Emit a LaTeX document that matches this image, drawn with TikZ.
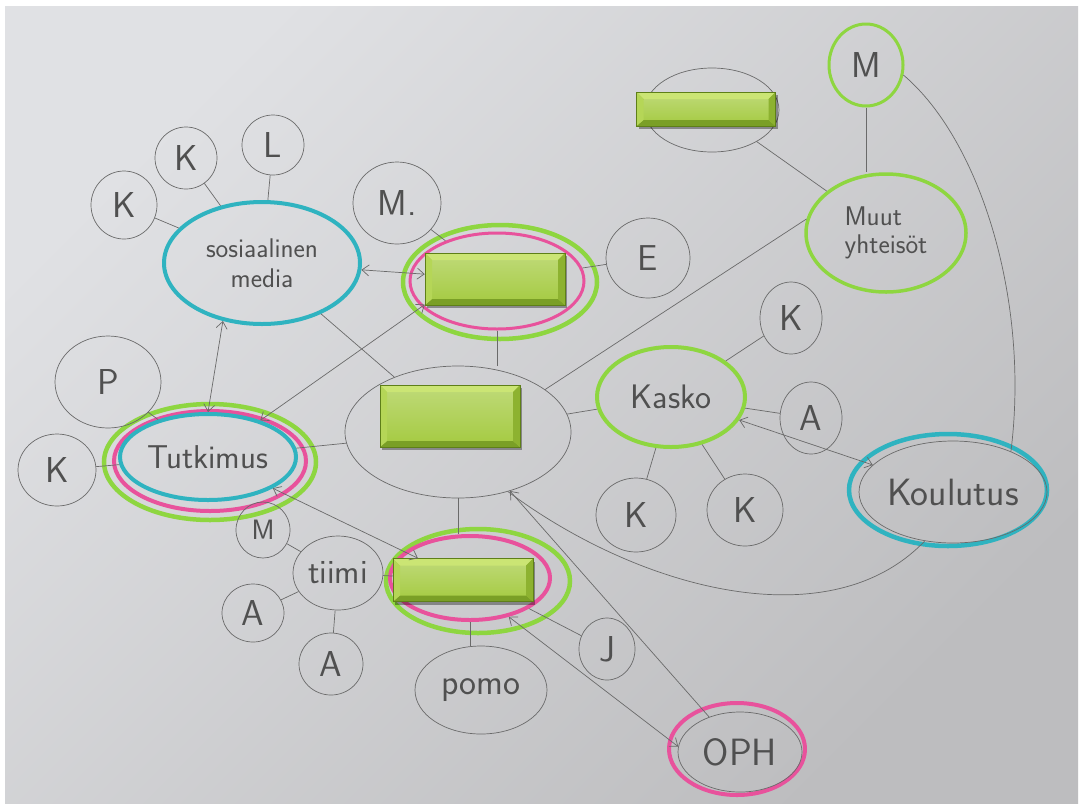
\documentclass[tikz,border=0pt]{standalone}
\usetikzlibrary{arrows,arrows.meta,shapes.geometric,shadows}
\definecolor{pencil}{HTML}{6A6A6A}
\definecolor{writing}{HTML}{505050}
\definecolor{markgreen}{HTML}{8ED640}
\definecolor{markpink}{HTML}{E8529C}
\definecolor{markcyan}{HTML}{2FB3C0}
\definecolor{bgtop}{HTML}{E0E1E4}
\definecolor{bgbot}{HTML}{BDBDBF}
\definecolor{boxface}{HTML}{A4CA40}
\definecolor{boxtop}{HTML}{CBE574}
\definecolor{boxleft}{HTML}{B5D657}
\definecolor{boxright}{HTML}{8DB230}
\definecolor{boxbot}{HTML}{7A9F26}
\definecolor{boxedge}{HTML}{5E7F18}

\begin{document}
\begin{tikzpicture}[x=1pt,y=-1pt]

\tikzset{vertex/.style = {shape=ellipse,draw=pencil,line width=0.7pt,inner sep=0pt,text=writing,align=center,font=\sffamily\fontsize{36}{38}\selectfont}}
\tikzset{edge/.style = {draw=pencil,line width=0.7pt,> = {Straight Barb[length=7pt,width=11pt]}}}
\tikzset{greenring/.style = {draw=markgreen,line width=4.5pt}}
\tikzset{pinkring/.style = {draw=markpink,line width=4pt}}
\tikzset{cyanring/.style = {draw=markcyan,line width=4.5pt}}
\tikzset{greenbox/.style = {shape=rectangle,fill=boxface,draw=boxedge,line width=0.5pt,inner sep=0pt,
  drop shadow={shadow xshift=2pt,shadow yshift=-3pt,opacity=0.35,fill=black},
  path picture={
    \shade[top color=boxface!70!white,bottom color=boxface] ([xshift=7pt,yshift=-7pt]path picture bounding box.north west) rectangle ([xshift=-7pt,yshift=6pt]path picture bounding box.south east);
    \fill[boxtop] (path picture bounding box.north west) -- (path picture bounding box.north east) -- ([xshift=-7pt,yshift=-7pt]path picture bounding box.north east) -- ([xshift=7pt,yshift=-7pt]path picture bounding box.north west) -- cycle;
    \fill[boxbot] (path picture bounding box.south west) -- (path picture bounding box.south east) -- ([xshift=-7pt,yshift=6pt]path picture bounding box.south east) -- ([xshift=7pt,yshift=6pt]path picture bounding box.south west) -- cycle;
    \fill[boxleft] (path picture bounding box.north west) -- (path picture bounding box.south west) -- ([xshift=7pt,yshift=6pt]path picture bounding box.south west) -- ([xshift=7pt,yshift=-7pt]path picture bounding box.north west) -- cycle;
    \fill[boxright] (path picture bounding box.north east) -- (path picture bounding box.south east) -- ([xshift=-7pt,yshift=6pt]path picture bounding box.south east) -- ([xshift=-7pt,yshift=-7pt]path picture bounding box.north east) -- cycle;
  }}}

% paper
\useasboundingbox (0,0) rectangle (1081,807);
\fill[white] (0,0) rectangle (1081,807);
\shade[top color=bgtop,bottom color=bgbot,shading angle=45] (5,6) rectangle (1078,803);

% marker rings
\draw[greenring] (500,282) ellipse [x radius=97, y radius=57];
\draw[greenring] (210,462) ellipse [x radius=106, y radius=58];
\draw[pinkring] (210,461) ellipse [x radius=96, y radius=50];
\draw[greenring] (478,581) ellipse [x radius=92, y radius=52];
\draw[cyanring] (948,490) ellipse [x radius=99, y radius=56];
\draw[pinkring] (737,749) ellipse [x radius=68, y radius=46];

% nodes
\node[vertex,minimum width=134,minimum height=84] (topell) at (712,110) {};
\node[vertex,draw=markgreen,line width=3pt,minimum width=74,minimum height=82] (m) at (866,65) {M};
\node[vertex,draw=markgreen,line width=3.5pt,minimum width=160,minimum height=118,font=\sffamily\fontsize{27}{28}\selectfont,align=left] (muut) at (886,233) {Muut\\yhteisöt};
\node[vertex,draw=markcyan,line width=4pt,minimum width=196,minimum height=122,font=\sffamily\fontsize{27}{30}\selectfont] (somed) at (262,263) {sosiaalinen\\media};
\node[vertex,minimum width=66,minimum height=68] (ksm1) at (124,205) {K};
\node[vertex,minimum width=62,minimum height=62] (ksm2) at (186,158) {K};
\node[vertex,minimum width=62,minimum height=60] (lsm) at (273,145) {L};
\node[vertex,minimum width=88,minimum height=82] (mdot) at (397,203) {M.};
\node[vertex,draw=markpink,line width=3pt,minimum width=174,minimum height=96] (ring1) at (497,281) {};
\node[vertex,minimum width=84,minimum height=80] (e) at (648,258) {E};
\node[vertex,minimum width=226,minimum height=132] (centre) at (458,432) {};
\node[vertex,draw=markcyan,line width=4pt,minimum width=176,minimum height=86,font=\sffamily\fontsize{33}{35}\selectfont] (tutk) at (208,457) {Tutkimus};
\node[vertex,minimum width=106,minimum height=92] (p) at (108,382) {P};
\node[vertex,minimum width=78,minimum height=72] (kl) at (57,470) {K};
\node[vertex,draw=markgreen,line width=4pt,minimum width=148,minimum height=100,font=\sffamily\fontsize{34}{36}\selectfont] (kasko) at (671,397) {Kasko};
\node[vertex,minimum width=62,minimum height=72] (kk1) at (791,318) {K};
\node[vertex,minimum width=62,minimum height=72] (a1) at (811,418) {A};
\node[vertex,minimum width=80,minimum height=74] (kk2) at (636,515) {K};
\node[vertex,minimum width=76,minimum height=72] (kk3) at (745,510) {K};
\node[vertex,minimum width=188,minimum height=102,font=\sffamily\fontsize{38}{40}\selectfont] (koul) at (953,492) {Koulutus};
\node[vertex,minimum width=90,minimum height=74,font=\sffamily\fontsize{34}{36}\selectfont] (tiimi) at (338,573) {tiimi};
\node[vertex,minimum width=54,minimum height=56,font=\sffamily\fontsize{28}{30}\selectfont] (m2) at (263,530) {M};
\node[vertex,minimum width=62,minimum height=58] (a2) at (253,613) {A};
\node[vertex,minimum width=64,minimum height=62] (a3) at (331,664) {A};
\node[vertex,draw=markpink,line width=4pt,minimum width=160,minimum height=84] (ring3) at (470,578) {};
\node[vertex,minimum width=132,minimum height=88,font=\sffamily\fontsize{36}{38}\selectfont] (pomo) at (481,690) {pomo};
\node[vertex,minimum width=56,minimum height=62] (j) at (607,649) {J};
\node[vertex,minimum width=124,minimum height=80,font=\sffamily\fontsize{38}{40}\selectfont] (oph) at (740,752) {OPH};

% green boxes
\node[greenbox,minimum width=139,minimum height=34] (tb) at (706,109) {};
\node[greenbox,minimum width=140,minimum height=52] (box1) at (495,279) {};
\node[greenbox,minimum width=140,minimum height=62] (box2) at (450,416) {};
\node[greenbox,minimum width=140,minimum height=43] (box3) at (463,580) {};

%edges
\draw[edge] (ksm1) to (somed);
\draw[edge] (ksm2) to (somed);
\draw[edge] (lsm) to (somed);
\draw[edge,<->] (somed) to (box1);
\draw[edge,<->] (somed.236) to (tutk.north);
\draw[edge] (somed) to (centre);
\draw[edge] (mdot) to (ring1);
\draw[edge] (e) to (ring1);
\draw[edge] (ring1.south) to (ring1.south |- centre.north);
\draw[edge,<->] (tutk.35) to (box1.200);
\draw[edge] (centre.26) to (muut.170);
\draw[edge] (centre) to (kasko);
\draw[edge] (centre) to (tutk);
\draw[edge] (centre.south) to (centre.south |- ring3.north);
\draw[edge,<-] (centre) to (oph);
\draw[edge] (centre.-50) .. controls (640,590) and (830,640) .. (koul.240);
\draw[edge] (p) to (tutk);
\draw[edge] (kl) to (tutk);
\draw[edge] (kasko) to (kk1);
\draw[edge] (kasko) to (a1);
\draw[edge] (kasko) to (kk2);
\draw[edge] (kasko) to (kk3);
\draw[edge,<->] (kasko) to (koul);
\draw[edge] (m.south) to (m.south |- muut.north);
\draw[edge] (topell) to (muut);
\draw[edge] (m.-15) .. controls (980,140) and (1030,300) .. (koul.35);
\draw[edge,<->] (tutk) to (box3);
\draw[edge] (tiimi) to (box3);
\draw[edge] (m2) to (tiimi);
\draw[edge] (a2) to (tiimi);
\draw[edge] (a3) to (tiimi);
\draw[edge] (ring3.south) to (ring3.south |- pomo.north);
\draw[edge] (ring3) to (j);
\draw[edge,<->] (ring3.-45) to (oph.175);
\end{tikzpicture}
\end{document}
